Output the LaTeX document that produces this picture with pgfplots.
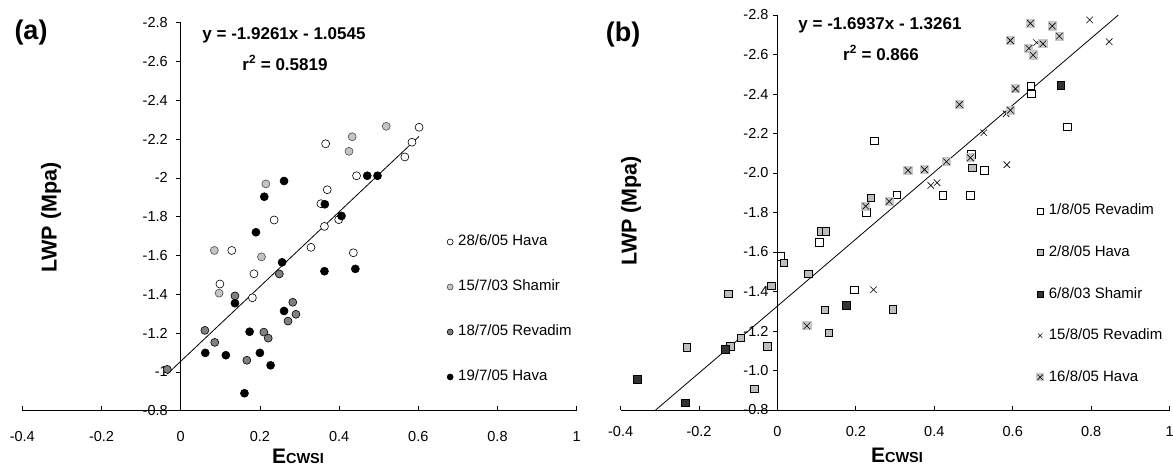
\documentclass[border=0pt]{standalone}
\usepackage{fontspec}
\setmainfont{Liberation Sans}
\usepackage{pgfplots}
\pgfplotsset{compat=1.18}

\definecolor{lg}{HTML}{C4C4C4}
\definecolor{mg}{HTML}{808080}
\definecolor{sq}{HTML}{BDBDBD}
\definecolor{dk}{HTML}{333333}
\definecolor{xg}{HTML}{C8C8C8}

\pgfdeclareplotmark{sqx}{%
  \pgfpathrectangle{\pgfqpoint{-1.25\pgfplotmarksize}{-1.25\pgfplotmarksize}}{\pgfqpoint{2.5\pgfplotmarksize}{2.5\pgfplotmarksize}}%
  \pgfusepath{fill}%
  \pgfpathmoveto{\pgfqpoint{-.88\pgfplotmarksize}{-.88\pgfplotmarksize}}\pgfpathlineto{\pgfqpoint{.88\pgfplotmarksize}{.88\pgfplotmarksize}}%
  \pgfpathmoveto{\pgfqpoint{-.88\pgfplotmarksize}{.88\pgfplotmarksize}}\pgfpathlineto{\pgfqpoint{.88\pgfplotmarksize}{-.88\pgfplotmarksize}}%
  \pgfusepath{stroke}}

\pgfplotsset{
  myaxis/.style={
    scale only axis,
    y dir=reverse,
    axis x line=bottom,
    axis y line=center,
    axis line style={-, line width=0.8pt, black},
    xmin=-0.4, xmax=1, ymin=-2.8, ymax=-0.8,
    xtick={-0.4,-0.2,0,0.2,0.4,0.6,0.8,1},
    xticklabels={-0.4,-0.2,0,0.2,0.4,0.6,0.8,1},
    ytick={-2.8,-2.6,-2.4,-2.2,-2,-1.8,-1.6,-1.4,-1.2,-1,-0.8},
    xtick align=inside, ytick align=outside,
    major tick length=4.5pt,
    tick style={black, line width=0.8pt},
    hide obscured x ticks=false, hide obscured y ticks=false,
    ticklabel style={font=\fontsize{14.5}{17}\selectfont},
    clip=false,
    legend cell align=left,
    legend style={draw=none, fill=none, anchor=north west, inner sep=0pt,
      font=\fontsize{15}{18}\selectfont,
      nodes={inner sep=1pt, text height=11pt, text depth=3pt},
      /tikz/every odd column/.append style={column sep=4pt}},
  },
  lm/.style={only marks, line width=0.6pt,
    legend image code/.code={\draw[mark repeat=2,mark phase=2,##1,mark size=3pt] plot coordinates {(0pt,0pt) (4pt,0pt) (10pt,0pt)};}},
}

\pgfplotstableread{
x y
0.602 -2.261
0.584 -2.184
0.566 -2.108
0.366 -2.176
0.444 -2.011
0.370 -1.939
0.354 -1.867
0.399 -1.785
0.363 -1.750
0.236 -1.783
0.129 -1.626
0.099 -1.453
0.185 -1.506
0.181 -1.382
0.329 -1.642
0.436 -1.614
}\havaA
\pgfplotstableread{
x y
0.519 -2.266
0.433 -2.212
0.425 -2.137
0.215 -1.969
0.085 -1.626
0.097 -1.406
0.204 -1.593
}\shamirA
\pgfplotstableread{
x y
0.137 -1.392
0.061 -1.214
0.086 -1.152
0.249 -1.505
0.283 -1.359
0.291 -1.297
0.271 -1.262
0.210 -1.205
0.221 -1.174
-0.034 -1.013
0.167 -1.060
}\revadimA
\pgfplotstableread{
x y
0.261 -1.984
0.211 -1.903
0.471 -2.011
0.497 -2.011
0.364 -1.864
0.406 -1.804
0.190 -1.720
0.256 -1.565
0.137 -1.354
0.363 -1.519
0.441 -1.531
0.261 -1.314
0.174 -1.207
0.062 -1.098
0.114 -1.086
0.200 -1.098
0.227 -1.034
0.161 -0.890
}\havaB

\pgfplotstableread{
x y
0.009 -1.577
0.107 -1.649
0.196 -1.409
0.247 -2.163
0.226 -1.800
0.304 -1.890
0.422 -1.886
0.492 -1.886
0.495 -2.094
0.528 -2.013
0.646 -2.441
0.647 -2.402
0.739 -2.233
}\revA
\pgfplotstableread{
x y
-0.231 -1.118
-0.125 -1.389
-0.121 -1.123
-0.093 -1.165
-0.026 -1.123
-0.059 -0.907
-0.015 -1.428
0.016 -1.546
0.079 -1.489
0.111 -1.704
0.123 -1.704
0.121 -1.308
0.131 -1.191
0.294 -1.311
0.238 -1.874
0.497 -2.027
}\havC
\pgfplotstableread{
x y
-0.357 -0.954
-0.235 -0.836
-0.133 -1.106
0.175 -1.331
0.723 -2.443
}\shaC
\pgfplotstableread{
x y
0.245 -1.409
0.391 -1.937
0.407 -1.951
0.526 -2.204
0.583 -2.300
0.585 -2.042
0.661 -2.660
0.796 -2.775
0.846 -2.665
}\revD
\pgfplotstableread{
x y
0.075 -1.226
0.225 -1.832
0.285 -1.856
0.333 -2.013
0.375 -2.017
0.431 -2.057
0.492 -2.077
0.464 -2.347
0.594 -2.318
0.607 -2.426
0.594 -2.671
0.641 -2.631
0.645 -2.758
0.652 -2.597
0.677 -2.654
0.701 -2.744
0.719 -2.693
}\havE

\begin{document}
\begin{tikzpicture}
\path[use as bounding box] (0,0) rectangle (1173pt,466pt);

\begin{axis}[myaxis, at={(299.5pt,249.3pt)}, anchor=center,
  width=554.4pt, height=388pt,
  yticklabels={-2.8,-2.6,-2.4,-2.2,-2,-1.8,-1.6,-1.4,-1.2,-1,-0.8},
  xticklabel style={yshift=-17pt}, yticklabel style={xshift=-5pt},
  legend style={at={(0.766,0.456)}, row sep=29pt}]
\addplot[lm, mark=*, mark size=4pt, mark options={draw=black, fill=white}] table {\havaA};
\addlegendentry{28/6/05 Hava}
\addplot[lm, mark=*, mark size=4pt, mark options={draw=black!70, fill=lg}] table {\shamirA};
\addlegendentry{15/7/03 Shamir}
\addplot[lm, mark=*, mark size=4pt, mark options={draw=black, fill=mg}] table {\revadimA};
\addlegendentry{18/7/05 Revadim}
\addplot[lm, mark=*, mark size=4pt, mark options={draw=black, fill=black}] table {\havaB};
\addlegendentry{19/7/05 Hava}
\addplot[black, line width=0.8pt, forget plot] coordinates {(-0.034,-0.989) (0.602,-2.214)};
\end{axis}

\begin{axis}[myaxis, at={(895.1pt,253.5pt)}, anchor=center,
  width=549pt, height=395pt,
  yticklabels={-2.8,-2.6,-2.4,-2.2,-2.0,-1.8,-1.6,-1.4,-1.2,-1.0,-0.8},
  xticklabel style={yshift=-13pt}, yticklabel style={xshift=-1pt},
  legend style={at={(0.757,0.525)}, row sep=25.6pt}]
\addplot[lm, mark=square*, mark size=3.8pt, mark options={draw=black, fill=white}] table {\revA};
\addlegendentry{1/8/05 Revadim}
\addplot[lm, mark=square*, mark size=3.8pt, mark options={draw=black, fill=sq}] table {\havC};
\addlegendentry{2/8/05 Hava}
\addplot[lm, mark=square*, mark size=3.8pt, mark options={draw=black, fill=dk}] table {\shaC};
\addlegendentry{6/8/03 Shamir}
\addplot[lm, mark=x, mark size=4.6pt, mark options={draw=black}] table {\revD};
\addlegendentry{15/8/05 Revadim}
\addplot[lm, mark=sqx, mark size=3.7pt, mark options={draw=black, fill=xg}] table {\havE};
\addlegendentry{16/8/05 Hava}
\addplot[black, line width=0.8pt, forget plot] coordinates {(-0.3106,-0.8) (0.8693,-2.8)};
\end{axis}

\node[font=\bfseries\fontsize{27}{30}\selectfont] at (31pt,433pt) {(a)};
\node[font=\bfseries\fontsize{27}{30}\selectfont] at (623pt,431pt) {(b)};
\node[rotate=90, font=\bfseries\fontsize{21.5}{24}\selectfont] at (51pt,248.5pt) {LWP (Mpa)};
\node[rotate=90, font=\bfseries\fontsize{21.5}{24}\selectfont] at (631pt,255pt) {LWP (Mpa)};
\node[anchor=base, font=\bfseries] at (298pt,2.8pt) {\fontsize{21}{24}\selectfont E\fontsize{14.5}{17}\selectfont CWSI};
\node[anchor=base, font=\bfseries] at (897pt,3.5pt) {\fontsize{21}{24}\selectfont E\fontsize{14.5}{17}\selectfont CWSI};
\node[font=\bfseries\fontsize{17}{20}\selectfont] at (284pt,431pt) {y = -1.9261x - 1.0545};
\node[font=\bfseries\fontsize{17}{20}\selectfont] at (285pt,403pt) {r\textsuperscript{2} = 0.5819};
\node[font=\bfseries\fontsize{17}{20}\selectfont] at (880pt,441pt) {y = -1.6937x - 1.3261};
\node[font=\bfseries\fontsize{17}{20}\selectfont] at (881pt,413pt) {r\textsuperscript{2} = 0.866};
\end{tikzpicture}
\end{document}
